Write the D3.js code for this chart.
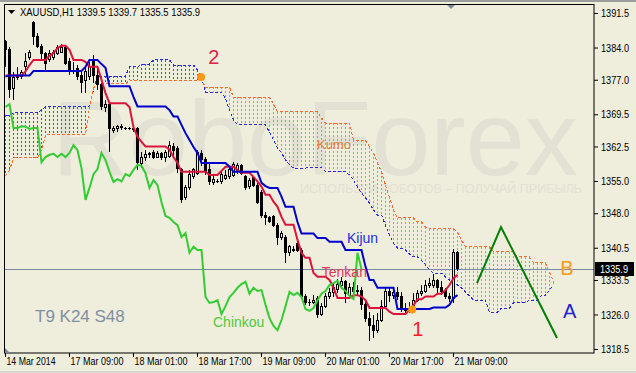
<!DOCTYPE html>
<html>
<head>
<meta charset="utf-8">
<script src="https://cdn.jsdelivr.net/npm/d3@7"></script>
<style>
html, body { margin: 0; padding: 0; background: #efeddc; }
svg { display: block; font-family: "Liberation Sans", Arial, sans-serif; }
</style>
</head>
<body>
<svg id="chart" width="636" height="373"></svg>
<script>
// XAUUSD H1, Ichimoku T9 K24 S48

// one row per hourly bar: [open, high, low, close]
const candles = [
  [1385.2,1385.6,1379.8,1383.5],[1383.5,1384.1,1373.0,1374.8],[1375.2,1378.7,1372.6,1377.4],[1377.8,1379.8,1376.9,1377.4],
  [1377.6,1379.1,1377.2,1378.5],[1379.8,1382.8,1378.0,1380.9],[1381.9,1383.5,1381.3,1383.0],[1389.5,1389.8,1384.5,1386.3],
  [1386.3,1387.1,1383.9,1384.3],[1384.3,1384.8,1381.3,1382.8],[1382.8,1383.0,1379.1,1380.6],[1381.3,1383.5,1380.9,1382.8],
  [1381.9,1383.5,1381.3,1383.0],[1382.8,1384.5,1382.4,1383.9],[1383.0,1384.8,1382.8,1383.9],[1383.9,1384.5,1380.2,1380.6],
  [1380.9,1381.7,1378.0,1378.7],[1378.7,1380.9,1378.2,1378.9],[1379.5,1380.2,1376.9,1377.6],[1378.0,1379.1,1374.1,1376.5],
  [1376.9,1379.5,1374.1,1378.7],[1377.6,1380.9,1376.9,1379.8],[1381.3,1382.4,1376.3,1378.0],[1378.0,1379.5,1374.8,1375.9],
  [1375.9,1376.3,1370.4,1371.1],[1370.9,1372.6,1370.0,1371.7],[1371.7,1372.2,1361.3,1366.5],[1365.9,1366.9,1365.4,1366.5],
  [1366.3,1367.2,1365.6,1366.9],[1366.7,1367.4,1366.1,1366.8],[1366.5,1366.7,1366.1,1366.3],[1366.3,1366.7,1366.1,1366.5],
  [1366.1,1367.4,1365.6,1366.5],[1366.5,1366.7,1357.4,1359.1],[1358.7,1361.3,1357.8,1360.2],[1360.0,1361.7,1359.3,1360.7],
  [1360.7,1361.3,1360.0,1360.9],[1361.1,1361.7,1359.8,1360.2],[1360.2,1361.5,1360.0,1360.9],[1360.9,1361.3,1359.6,1360.2],
  [1360.0,1361.7,1359.1,1361.1],[1360.4,1363.7,1360.0,1362.8],[1362.4,1363.2,1360.4,1361.7],[1362.0,1362.6,1356.7,1357.8],
  [1357.4,1357.8,1350.2,1350.9],[1351.5,1354.1,1350.9,1353.5],[1353.5,1357.4,1353.0,1356.5],[1355.9,1357.8,1355.4,1357.6],
  [1356.7,1361.7,1356.3,1361.1],[1360.9,1361.7,1358.3,1359.6],[1359.6,1360.2,1356.3,1357.0],[1357.6,1358.7,1354.1,1354.8],
  [1354.6,1356.1,1354.1,1355.4],[1355.0,1355.4,1354.6,1354.9],[1354.8,1357.0,1354.3,1356.5],[1355.6,1357.4,1355.2,1356.1],
  [1355.9,1358.0,1355.4,1357.4],[1356.3,1359.1,1355.9,1358.5],[1357.0,1358.9,1356.5,1358.3],[1358.3,1358.7,1356.3,1356.7],
  [1355.9,1356.3,1353.0,1353.5],[1353.7,1355.7,1353.3,1355.2],[1355.7,1356.1,1353.7,1354.1],[1354.1,1354.6,1350.0,1350.4],
  [1352.4,1353.0,1347.0,1347.4],[1347.6,1348.3,1345.4,1347.0],[1347.0,1347.4,1345.9,1346.1],[1347.2,1347.6,1345.0,1345.4],
  [1345.4,1345.9,1341.1,1342.8],[1342.8,1344.1,1342.2,1343.7],[1342.8,1343.3,1337.2,1339.4],[1339.4,1341.1,1338.7,1340.7],
  [1340.2,1340.9,1339.6,1340.0],[1341.5,1342.0,1339.6,1340.0],[1340.0,1340.4,1329.4,1329.8],[1329.8,1330.5,1328.1,1328.5],
  [1328.5,1329.4,1327.8,1328.7],[1328.7,1330.2,1328.3,1329.1],[1329.4,1330.0,1325.2,1326.1],[1326.1,1328.5,1325.7,1327.8],
  [1327.8,1330.7,1327.4,1329.8],[1329.8,1331.8,1329.4,1330.7],[1330.7,1332.6,1329.8,1331.8],[1331.5,1333.7,1330.7,1332.6],
  [1332.4,1334.1,1331.5,1333.1],[1333.1,1333.5,1328.5,1330.5],[1330.2,1332.8,1329.6,1331.8],[1331.8,1333.1,1330.2,1331.1],
  [1331.1,1332.4,1330.0,1331.3],[1331.3,1332.0,1327.0,1328.1],[1328.1,1329.1,1324.4,1325.2],[1325.2,1326.5,1320.2,1323.5],
  [1323.5,1325.9,1320.9,1322.6],[1322.6,1326.3,1322.0,1324.8],[1324.8,1329.1,1324.4,1327.8],[1327.8,1331.8,1327.4,1330.9],
  [1330.9,1331.8,1328.7,1330.2],[1330.2,1332.0,1329.4,1330.7],[1330.7,1332.0,1329.1,1329.8],[1329.8,1330.9,1326.5,1327.2],
  [1327.0,1328.5,1326.1,1326.8],[1326.8,1328.7,1326.3,1327.4],[1327.4,1330.7,1327.0,1329.1],[1329.1,1331.3,1328.7,1330.5],
  [1330.5,1332.4,1330.0,1331.1],[1331.1,1333.5,1330.7,1332.4],[1332.4,1333.9,1331.8,1332.8],[1332.2,1334.8,1331.8,1333.3],
  [1333.3,1333.7,1330.5,1331.8],[1331.8,1333.3,1330.2,1331.1],[1331.3,1331.8,1329.4,1330.0],[1330.0,1330.7,1328.7,1329.4],
  [1329.4,1340.2,1328.5,1339.4],[1339.5,1339.7,1335.5,1335.9]
];

const tenkan = [
  1377.9,1377.9,1377.9,1377.9,1377.9,1378.8,1380.2,1381.3,1381.3,1381.3,1381.3,1382.2,1382.8,1383.9,1384.4,1384.4,
  1383.5,1381.3,1381.3,1381.3,1380.9,1379.8,1379.8,1379.8,1377.0,1374.1,1371.9,1371.9,1371.9,1371.9,1371.9,1371.1,
  1366.7,1364.6,1363.5,1362.5,1362.5,1362.5,1362.5,1362.5,1362.5,1361.8,1360.2,1358.9,1357.0,1357.0,1357.0,1357.0,
  1357.0,1357.0,1357.0,1356.3,1356.3,1356.3,1357.2,1358.1,1358.1,1358.1,1357.4,1356.8,1356.8,1356.8,1355.9,1354.9,
  1353.8,1352.0,1352.0,1350.5,1349.4,1347.2,1345.5,1345.5,1345.5,1342.2,1339.4,1338.3,1338.3,1335.0,1334.2,1334.2,
  1334.2,1333.5,1331.8,1329.6,1329.6,1329.6,1329.6,1330.2,1330.2,1329.9,1329.1,1327.4,1327.4,1327.4,1327.4,1327.4,
  1326.6,1326.1,1326.1,1326.1,1326.1,1327.0,1328.0,1329.3,1329.3,1329.9,1329.9,1329.9,1330.5,1330.5,1331.3,1332.4,
  1333.9,1334.6
];

const kijun = [
  1377.7,1377.9,1377.9,1377.9,1377.9,1377.9,1377.9,1378.9,1378.9,1378.9,1378.9,1378.9,1378.9,1378.9,1378.9,1378.9,
  1378.9,1378.9,1378.9,1378.9,1379.8,1381.3,1381.3,1381.3,1380.4,1379.6,1375.6,1375.6,1375.6,1375.6,1375.6,1375.6,
  1373.3,1371.2,1371.2,1371.2,1371.2,1371.2,1371.2,1371.2,1371.2,1370.4,1369.0,1369.0,1367.2,1365.4,1363.9,1362.4,
  1361.1,1358.9,1358.9,1358.9,1358.9,1358.9,1358.9,1358.9,1358.1,1357.0,1357.0,1357.0,1357.0,1357.0,1357.0,1357.0,
  1354.6,1353.9,1353.5,1353.5,1353.5,1351.6,1349.4,1349.4,1349.4,1346.1,1343.6,1343.6,1343.6,1343.6,1342.6,1342.6,
  1342.6,1341.8,1341.8,1341.8,1341.8,1340.0,1340.0,1340.0,1340.0,1340.0,1336.4,1333.5,1333.5,1331.8,1331.8,1331.8,
  1331.8,1331.8,1327.2,1327.2,1327.2,1327.2,1327.2,1327.2,1327.2,1327.2,1327.2,1327.5,1327.5,1327.5,1327.5,1328.1,
  1329.6,1330.2
];

// senkou spans run 24 bars past the last candle
const spanA = [
  1369.3,1369.3,1369.8,1369.8,1369.8,1369.8,1369.8,1369.8,1369.8,1370.4,1371.1,1371.1,1371.1,1371.1,1371.1,1371.1,
  1371.1,1371.1,1371.1,1371.1,1371.1,1371.1,1374.8,1377.8,1377.8,1377.8,1377.8,1377.8,1377.8,1377.8,1377.8,1379.8,
  1379.8,1379.8,1380.4,1380.4,1380.4,1381.3,1381.3,1381.3,1381.3,1381.3,1380.2,1380.2,1380.2,1380.2,1380.2,1380.2,
  1379.1,1377.4,1374.3,1374.3,1374.3,1374.3,1374.3,1373.0,1370.4,1368.3,1367.2,1367.2,1367.2,1367.2,1367.2,1367.2,
  1367.2,1367.2,1365.6,1363.9,1362.2,1361.1,1359.6,1358.5,1357.8,1357.8,1357.8,1357.8,1358.0,1358.0,1358.0,1358.0,
  1357.0,1357.0,1357.0,1357.0,1357.0,1357.0,1356.3,1355.2,1353.7,1352.4,1351.3,1350.2,1348.7,1347.6,1347.6,1345.4,
  1343.3,1341.5,1340.4,1340.4,1340.0,1339.1,1338.5,1338.5,1337.8,1336.8,1335.7,1335.0,1335.0,1335.0,1334.1,1333.5,
  1332.8,1332.4,1331.8,1330.9,1330.0,1329.1,1329.1,1329.1,1329.1,1326.5,1326.5,1326.5,1327.4,1327.4,1327.4,1328.5,
  1328.5,1328.5,1328.5,1329.1,1329.1,1329.1,1330.2,1330.2,1331.3,1332.4
];

const spanB = [
  1356.1,1357.4,1360.0,1360.0,1360.0,1360.0,1360.0,1360.0,1360.0,1361.7,1365.0,1365.0,1365.0,1365.0,1365.0,1365.0,
  1365.0,1365.0,1365.0,1365.0,1365.0,1370.9,1375.2,1376.1,1376.1,1376.1,1376.1,1376.1,1376.1,1376.1,1376.1,1376.9,
  1376.9,1376.9,1376.9,1376.9,1376.9,1376.9,1376.9,1376.9,1376.9,1376.9,1376.9,1376.9,1376.9,1376.9,1376.9,1376.9,
  1376.9,1376.9,1375.4,1375.4,1375.4,1375.4,1375.4,1375.4,1375.4,1373.2,1373.2,1373.2,1373.2,1373.2,1373.2,1373.2,
  1373.2,1373.2,1373.2,1371.7,1370.0,1370.0,1370.0,1370.0,1370.0,1370.0,1370.0,1370.0,1370.0,1370.0,1370.0,1368.7,
  1367.6,1367.6,1367.6,1367.6,1367.6,1367.6,1367.6,1363.9,1363.9,1363.9,1363.9,1362.4,1361.1,1358.9,1357.0,1354.1,
  1351.5,1348.7,1347.0,1347.0,1347.0,1347.0,1347.0,1346.1,1346.1,1345.0,1344.6,1344.6,1344.6,1344.6,1344.6,1344.6,
  1344.6,1343.9,1342.2,1340.7,1340.7,1340.7,1340.7,1340.7,1340.7,1340.7,1339.6,1339.6,1339.6,1339.6,1339.6,1339.6,
  1338.5,1338.5,1338.5,1338.5,1337.2,1337.2,1337.2,1337.2,1335.2,1333.1
];

const chinkouShift = 24;
const lastPrice = 1335.9;

const yTickValues = [1391.5, 1384.0, 1377.0, 1369.5, 1362.5, 1355.0, 1348.0, 1340.5, 1333.5, 1326.0, 1318.5];
const xTickBars = [0, 16, 32, 48, 64, 80, 96, 112];
const xTickLabels = ["14 Mar 2014", "17 Mar 09:00", "18 Mar 01:00", "18 Mar 17:00",
                     "19 Mar 09:00", "20 Mar 01:00", "20 Mar 17:00", "21 Mar 09:00"];

// hand-drawn forecast zigzag: [bar, price]
const forecast = [[118, 1332.8], [124, 1345.0], [138, 1320.9]];
// orange cross markers: [bar, price]
const crossMarks = [[49, 1377.6], [101.8, 1327.1]];
// text notes: [bar, price, text, colour, size]
const notes = [
  [78, 1362.0, "Kumo", "#e08040", 13],
  [85.5, 1341.5, "Kijun", "#2a2ae0", 14],
  [79.2, 1334.1, "Tenkan", "#e0365e", 14],
  [52, 1323.3, "Chinkou", "#55c83a", 14],
  [7.5, 1324.4, "T9 K24 S48", "#8090a2", 17],
  [50.8, 1380.4, "2", "#e0204a", 20],
  [101.8, 1321.3, "1", "#ff1a1a", 20],
  [138.8, 1334.6, "B", "#ff9a1e", 20],
  [139.5, 1325.2, "A", "#2222d0", 20]
];

const bg = "#efeddc";
const colA = "#2828e4", colB = "#ff6a2b";
const hatchA = "#4a4aea", hatchB = "#ff8050";

var svg = d3.select("#chart");

var x = d3.scaleLinear().domain([0, 1]).range([5, 9]);          // 4 px per bar
var y = d3.scaleLinear().domain([1318.5, 1391.5]).range([349, 13]);

svg.append("rect").attr("width", 636).attr("height", 373).attr("fill", bg);
svg.append("rect").attr("width", 636).attr("height", 2).attr("fill", "#9c9c9c");
svg.append("rect").attr("y", 371).attr("width", 636).attr("height", 2).attr("fill", "#d8d8d0");

svg.append("clipPath").attr("id", "clip")
  .append("rect").attr("x", 5).attr("y", 5).attr("width", 589).attr("height", 348);

/// watermark
svg.append("text").attr("x", 52).attr("y", 175)
  .attr("font-size", 106).attr("fill", "#e2e1d3")
  .attr("textLength", 526).attr("lengthAdjust", "spacingAndGlyphs")
  .text("RoboForex");
svg.append("text").attr("x", 300).attr("y", 193)
  .attr("font-size", 13).attr("fill", "#e2e1d3")
  .attr("textLength", 282).attr("lengthAdjust", "spacingAndGlyphs")
  .text("ИСПОЛЬЗУЙ РОБОТОВ – ПОЛУЧАЙ ПРИБЫЛЬ");

var plot = svg.append("g").attr("clip-path", "url(#clip)");

/// kumo hatching, one dotted stroke per bar
var cloud = spanA.map(function(a, i) { return {i: i, a: a, b: spanB[i]}; });
plot.append("g").attr("shape-rendering", "crispEdges")
  .selectAll("line").data(cloud).join("line")
  .attr("x1", function(d) { return x(d.i) + 0.5; })
  .attr("x2", function(d) { return x(d.i) + 0.5; })
  .attr("y1", function(d) { return Math.round(y(Math.max(d.a, d.b))); })
  .attr("y2", function(d) { return Math.round(y(Math.min(d.a, d.b))); })
  .attr("stroke", function(d) { return d.b > d.a ? hatchB : hatchA; })
  .attr("stroke-width", 1)
  .attr("stroke-dasharray", "2,2");

var line = d3.line()
  .x(function(d, i) { return x(i) + 0.5; })
  .y(function(d) { return y(d); });

plot.append("path").datum(spanA).attr("d", line).attr("shape-rendering", "crispEdges")
  .attr("fill", "none").attr("stroke", colA).attr("stroke-width", 1).attr("stroke-dasharray", "3,2");
plot.append("path").datum(spanB).attr("d", line).attr("shape-rendering", "crispEdges")
  .attr("fill", "none").attr("stroke", colB).attr("stroke-width", 1).attr("stroke-dasharray", "3,2");

/// last price line
plot.append("line")
  .attr("x1", 4).attr("x2", 594)
  .attr("y1", Math.round(y(lastPrice)) + 0.5).attr("y2", Math.round(y(lastPrice)) + 0.5)
  .attr("stroke", "#7a8a9e");

/// candles
var cg = plot.append("g").attr("shape-rendering", "crispEdges");
cg.selectAll("line").data(candles).join("line")
  .attr("x1", function(d, i) { return x(i) + 0.5; })
  .attr("x2", function(d, i) { return x(i) + 0.5; })
  .attr("y1", function(d) { return y(d[1]); })
  .attr("y2", function(d) { return y(d[2]); })
  .attr("stroke", "#000");
cg.selectAll("rect").data(candles).join("rect")
  .attr("x", function(d, i) { return x(i) - 0.5; })
  .attr("y", function(d) { return y(Math.max(d[0], d[3])); })
  .attr("width", 2)
  .attr("height", function(d) { return Math.max(0.01, Math.abs(y(d[0]) - y(d[3]))); })
  .attr("fill", function(d) { return d[3] >= d[0] ? bg : "#000"; })
  .attr("stroke", "#000");

/// ichimoku lines
plot.append("path").datum(tenkan).attr("d", line)
  .attr("fill", "none").attr("stroke", "#dc143c").attr("stroke-width", 2);
plot.append("path").datum(kijun).attr("d", line)
  .attr("fill", "none").attr("stroke", "#0000cd").attr("stroke-width", 2);

var chinkou = candles.slice(chinkouShift).map(function(c) { return c[3]; });
plot.append("path").datum(chinkou).attr("d", line)
  .attr("fill", "none").attr("stroke", "#32cd32").attr("stroke-width", 2);

/// forecast
plot.append("path").datum(forecast)
  .attr("d", d3.line().x(function(d) { return x(d[0]); }).y(function(d) { return y(d[1]); }))
  .attr("fill", "none").attr("stroke", "#008000").attr("stroke-width", 2);

plot.selectAll("circle.mark").data(crossMarks).join("circle")
  .attr("class", "mark")
  .attr("cx", function(d) { return x(d[0]); })
  .attr("cy", function(d) { return y(d[1]); })
  .attr("r", 4).attr("fill", "#ff9a10");

svg.append("g").selectAll("text").data(notes).join("text")
  .attr("x", function(d) { return x(d[0]); })
  .attr("y", function(d) { return y(d[1]); })
  .attr("font-size", function(d) { return d[4]; })
  .attr("fill", function(d) { return d[3]; })
  .text(function(d) { return d[2]; });

/// frame
svg.append("rect").attr("x", 4.5).attr("y", 4.5).attr("width", 589.5).attr("height", 348.5)
  .attr("fill", "none").attr("stroke", "#000");

/// axes
var yAxis = svg.append("g").attr("transform", "translate(594,0)")
  .call(d3.axisRight(y).tickValues(yTickValues).tickSize(4).tickPadding(3)
    .tickFormat(d3.format(".1f")));
yAxis.select(".domain").remove();
yAxis.selectAll("text").attr("font-size", 11).attr("fill", "#000")
  .attr("font-family", "Liberation Sans, Arial, sans-serif")
  .attr("textLength", 28).attr("lengthAdjust", "spacingAndGlyphs");

var xAxis = svg.append("g").attr("transform", "translate(0,353)")
  .call(d3.axisBottom(x).tickValues(xTickBars).tickSize(4).tickPadding(0)
    .tickFormat(function(d, i) { return xTickLabels[i]; }));
xAxis.select(".domain").remove();
xAxis.selectAll("text").attr("font-size", 11).attr("fill", "#000")
  .attr("font-family", "Liberation Sans, Arial, sans-serif")
  .attr("text-anchor", "start").attr("x", 1)
  .attr("textLength", function(d, i) { return i === 0 ? 49 : 53; })
  .attr("lengthAdjust", "spacingAndGlyphs");

/// last price tag
svg.append("rect").attr("x", 595).attr("y", Math.round(y(lastPrice)) - 7)
  .attr("width", 39).attr("height", 14).attr("fill", "#000");
svg.append("text").attr("x", 600).attr("y", Math.round(y(lastPrice)) + 4)
  .attr("font-size", 11).attr("fill", "#fff")
  .attr("textLength", 28).attr("lengthAdjust", "spacingAndGlyphs")
  .text(d3.format(".1f")(lastPrice));

/// header
svg.append("path").attr("d", "M8,10L15,10L11.5,14Z").attr("fill", "#000");
svg.append("text").attr("x", 20).attr("y", 16)
  .attr("font-size", 11).attr("fill", "#000")
  .attr("textLength", 180).attr("lengthAdjust", "spacingAndGlyphs")
  .text("XAUUSD,H1  " + candles[candles.length - 1].map(function(v) { return v.toFixed(1); }).join(" "));

// small chart-shift markers
svg.append("path").attr("d", "M447,5L455,5L451,9Z").attr("fill", "#7d8b99");
svg.append("path").attr("d", "M5,348L5,353L10,353Z").attr("fill", "#7d8b99");
</script>
</body>
</html>
